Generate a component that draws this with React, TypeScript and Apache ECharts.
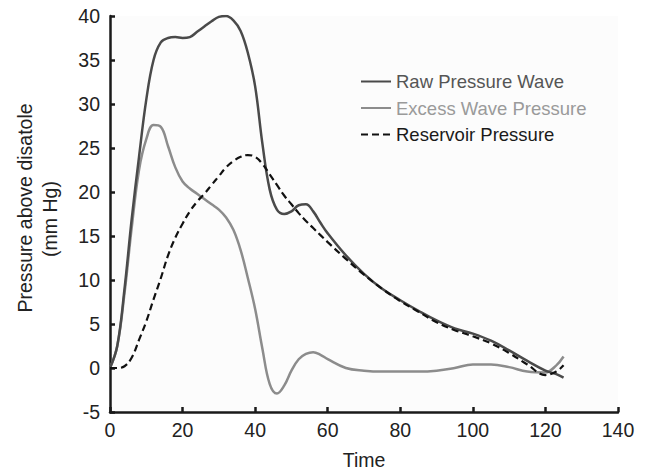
import React, { useEffect, useRef } from "react";
import * as echarts from "echarts";

const time = [0, 2, 4, 6, 8, 10, 12, 14, 16, 18, 20, 22, 24, 26, 28, 30, 32, 34, 36, 38, 40, 42, 44, 46, 48, 50, 52, 54, 56, 58, 60, 65, 70, 75, 80, 85, 90, 95, 100, 105, 110, 115, 120, 123, 125];

const rawPressure = [0, 2.5, 9, 17, 24, 30.5, 35, 37, 37.5, 37.6, 37.5, 37.6, 38.2, 38.8, 39.4, 39.9, 40, 39.5, 38.3, 35.8, 32, 25.5, 20.3, 18, 17.5, 17.8, 18.5, 18.6, 17.8, 16.5, 15.3, 12.8, 10.7, 9, 7.7, 6.5, 5.4, 4.5, 3.9, 3.1, 2, 0.8, -0.3, -0.7, -1.1];

const excessPressure = [0, 2.5, 8.5, 16, 22.5, 26, 27.6, 27.4, 25.2, 22.8, 21.2, 20.4, 19.8, 19.2, 18.6, 18, 17.1, 15.7, 13.4, 10.2, 6.7, 2.2, -1.8, -2.9, -2.0, -0.3, 1.0, 1.6, 1.8, 1.5, 1.0, 0, -0.3, -0.4, -0.4, -0.4, -0.3, 0, 0.4, 0.4, 0.1, -0.4, -0.5, 0.3, 1.3];

const reservoirPressure = [0, 0, 0.2, 1.2, 3.2, 5.3, 7.8, 10.2, 12.8, 14.8, 16.4, 17.8, 18.9, 19.8, 20.8, 21.8, 22.8, 23.5, 24, 24.2, 24, 23.2, 22, 20.8, 19.6, 18.6, 17.6, 16.7, 15.9, 15.1, 14.3, 12.4, 10.6, 9, 7.6, 6.4, 5.2, 4.3, 3.6, 2.8, 1.7, 0.4, -0.8, -0.4, 0.3];

const seriesNames = ["Raw Pressure Wave", "Excess Wave Pressure", "Reservoir Pressure"];
const xTicks = [0, 20, 40, 60, 80, 100, 120, 140];
const yTicks = [-5, 0, 5, 10, 15, 20, 25, 30, 35, 40];

const pair = (vals: number[]) => time.map((t, i) => [t, vals[i]]);

export default function App() {
  const ref = useRef<HTMLDivElement>(null);
  useEffect(() => {
    if (!ref.current) return;
    const chart = echarts.init(ref.current, undefined, { renderer: "svg" });
    const font = "'Liberation Sans', Arial, Helvetica, sans-serif";
    chart.setOption({
      animation: false,
      backgroundColor: "#ffffff",
      grid: { left: 110, right: 31, top: 16, bottom: 57, show: true, backgroundColor: "#fcfcfc", borderWidth: 0 },
      legend: {
        orient: "vertical",
        left: 355,
        top: 67,
        itemWidth: 30,
        itemHeight: 14,
        itemGap: 7.5,
        itemStyle: { opacity: 0 },
        textStyle: { fontFamily: font, fontSize: 18.5 },
        data: [
          { name: seriesNames[0], textStyle: { color: "#555555" } },
          { name: seriesNames[1], textStyle: { color: "#9a9a9a" } },
          { name: seriesNames[2], textStyle: { color: "#1a1a1a" } },
        ],
      },
      xAxis: {
        type: "value",
        min: xTicks[0],
        max: xTicks[xTicks.length - 1],
        interval: 20,
        name: "Time",
        nameLocation: "middle",
        nameGap: 38,
        nameTextStyle: { fontFamily: font, fontSize: 19.5, color: "#222" },
        axisLine: { show: true, onZero: false, lineStyle: { color: "#1a1a1a", width: 2.5 } },
        axisTick: { show: true, inside: true, length: 5, lineStyle: { color: "#1a1a1a", width: 2.5 } },
        axisLabel: { fontFamily: font, fontSize: 19.5, color: "#222", margin: 8 },
        splitLine: { show: false },
      },
      yAxis: {
        type: "value",
        min: yTicks[0],
        max: yTicks[yTicks.length - 1],
        interval: 5,
        axisLine: { show: true, onZero: false, lineStyle: { color: "#1a1a1a", width: 2.5 } },
        axisTick: { show: true, inside: true, length: 5, lineStyle: { color: "#1a1a1a", width: 2.5 } },
        axisLabel: { fontFamily: font, fontSize: 19.5, color: "#222", margin: 10 },
        splitLine: { show: false },
      },
      graphic: [
        {
          type: "text",
          x: 25,
          y: 208,
          rotation: Math.PI / 2,
          style: { text: "Pressure above disatole", fontFamily: font, fontSize: 19.5, fill: "#222", textAlign: "center", textVerticalAlign: "middle" },
        },
        {
          type: "text",
          x: 50,
          y: 219,
          rotation: Math.PI / 2,
          style: { text: "(mm Hg)", fontFamily: font, fontSize: 19.5, fill: "#222", textAlign: "center", textVerticalAlign: "middle" },
        },
      ],
      series: [
        {
          name: seriesNames[1],
          type: "line",
          data: pair(excessPressure),
          smooth: 0.4,
          symbol: "none",
          lineStyle: { color: "#8c8c8c", width: 2.5 },
          itemStyle: { color: "#8c8c8c" },
          z: 2,
        },
        {
          name: seriesNames[0],
          type: "line",
          data: pair(rawPressure),
          smooth: 0.4,
          symbol: "none",
          lineStyle: { color: "#4a4a4a", width: 2.5 },
          itemStyle: { color: "#4a4a4a" },
          z: 3,
        },
        {
          name: seriesNames[2],
          type: "line",
          data: pair(reservoirPressure),
          smooth: 0.4,
          symbol: "none",
          lineStyle: { color: "#111111", width: 2.2, type: [7, 4] },
          itemStyle: { color: "#111111" },
          z: 4,
        },
      ],
    });
    return () => chart.dispose();
  }, []);
  return <div ref={ref} style={{ position: "absolute", left: 0, top: 0, width: 649, height: 475 }} />;
}
